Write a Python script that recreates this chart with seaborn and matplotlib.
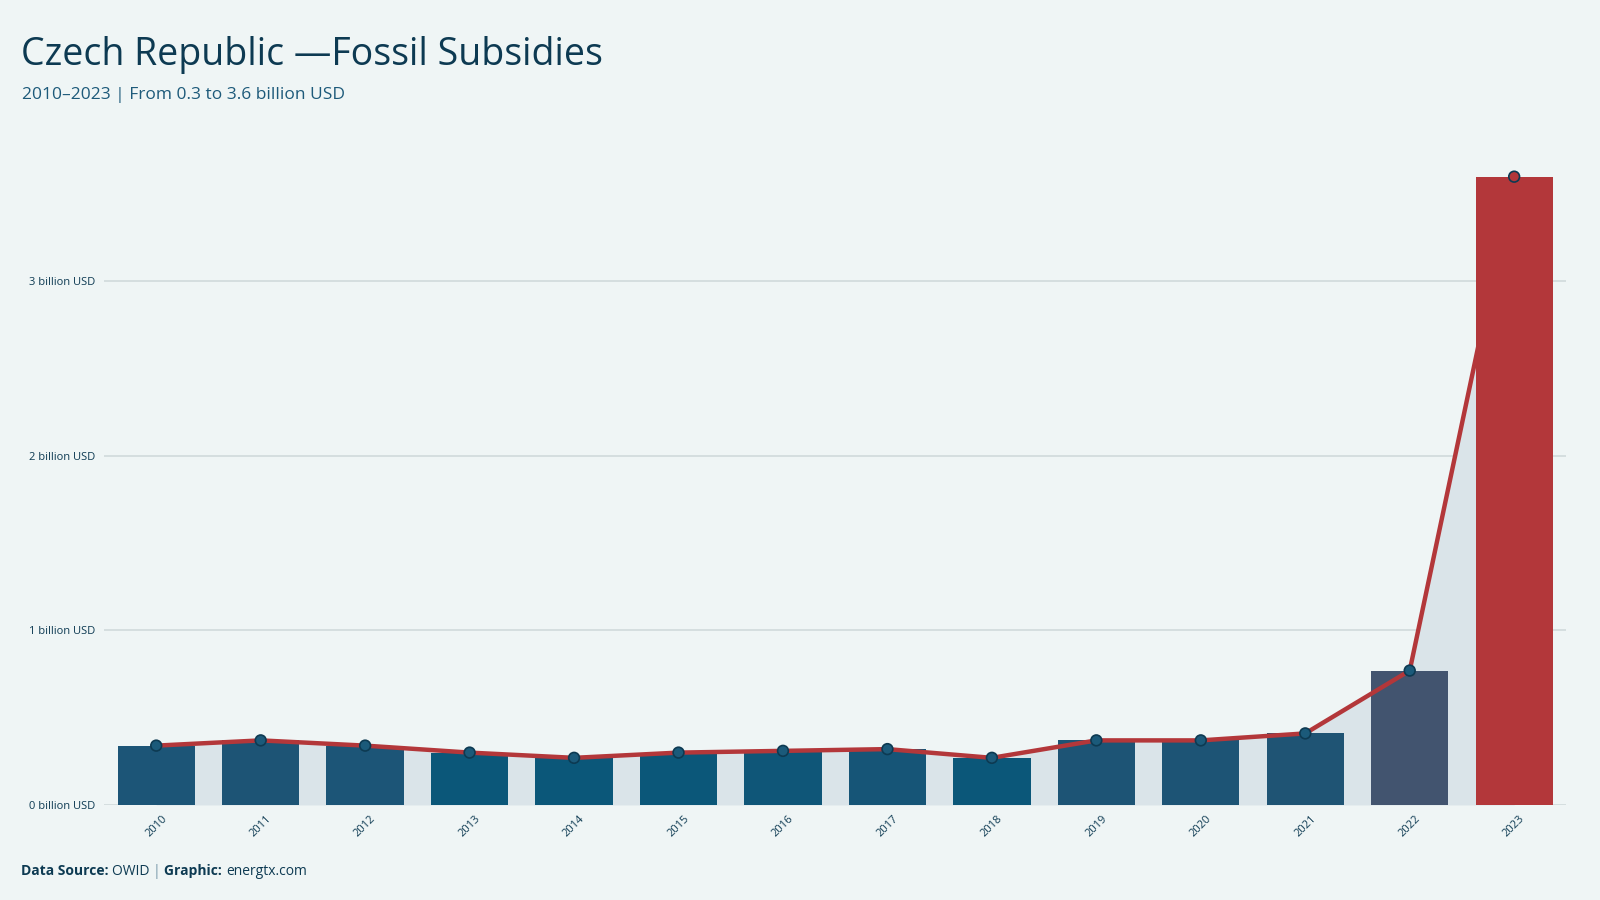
import pandas as pd
import matplotlib.pyplot as plt
import seaborn as sns

years = ['2010', '2011', '2012', '2013', '2014', '2015', '2016',
         '2017', '2018', '2019', '2020', '2021', '2022', '2023']
subsidies = [0.34, 0.37, 0.34, 0.30, 0.27, 0.30, 0.31,
             0.32, 0.27, 0.37, 0.37, 0.41, 0.77, 3.60]
bar_colors = ['#1c5577', '#1d5475', '#1c5577', '#0b5779', '#0b5779', '#0b5779', '#0f5678',
              '#165577', '#0b5779', '#1d5475', '#1d5475', '#1f5474', '#42546f', '#b3373a']
y_ticks = [0, 1, 2, 3]
y_labels = ['0 billion USD', '1 billion USD', '2 billion USD', '3 billion USD']

df = pd.DataFrame({'year': years, 'value': subsidies})
df['pos'] = range(len(df))

bg = '#eff5f5'
dark = '#0d3a52'
red = '#b3373a'

sns.set_theme(style='white')
plt.rcParams['font.family'] = ['Open Sans', 'DejaVu Sans']

fig = plt.figure(figsize=(16, 9), dpi=100, facecolor=bg)
ax = fig.add_axes([0.065, 0.1056, 0.914, 0.733])
ax.set_facecolor(bg)

# shaded area under the trend line
ax.fill_between(df['pos'], df['value'], 0, color='#dae4e9', zorder=1, linewidth=0)

sns.barplot(data=df, x='year', y='value', hue='year', palette=bar_colors,
            width=0.74, legend=False, saturation=1, linewidth=0, ax=ax, zorder=2)

sns.lineplot(data=df, x='pos', y='value', color=red, linewidth=3.2, ax=ax, zorder=3)
marker_fill = ['#1b5a7a'] * (len(df) - 1) + [red]
ax.scatter(df['pos'], df['value'], s=60, c=marker_fill, edgecolors=dark,
           linewidths=1.2, zorder=4)

ax.set_xlim(-0.5, 13.5)
ax.set_ylim(0, 3.78)
ax.set_yticks(y_ticks)
ax.set_yticklabels(y_labels)
ax.set_xticks(range(len(years)))
ax.set_xticklabels(years, rotation=45)
ax.tick_params(axis='both', length=0, labelsize=8, labelcolor=dark, pad=6)
ax.set_xlabel('')
ax.set_ylabel('')
ax.grid(axis='y', color='#d3dcdd', linewidth=1.3, zorder=0)
ax.set_axisbelow(True)
for s in ax.spines.values():
    s.set_visible(False)

fig.text(0.013, 0.928, 'Czech Republic \u2014Fossil Subsidies', fontsize=27,
         color=dark, va='baseline', ha='left')
fig.text(0.014, 0.89, '2010\u20132023 | From 0.3 to 3.6 billion USD', fontsize=12.5,
         color='#1d5a7a', va='baseline', ha='left')

# footer with mixed weights
fig.canvas.draw()
renderer = fig.canvas.get_renderer()
x = 0.013
pieces = [('Data Source: ', 'bold', dark), ('OWID ', 'normal', dark),
          ('| ', 'normal', '#7a9aab'), ('Graphic: ', 'bold', dark),
          ('energtx.com', 'normal', dark)]
for txt, weight, col in pieces:
    t = fig.text(x, 0.028, txt, fontsize=10, fontweight=weight, color=col,
                 va='baseline', ha='left')
    bb = t.get_window_extent(renderer=renderer)
    x += bb.width / fig.bbox.width

plt.savefig('out.png', dpi=100, facecolor=bg)
